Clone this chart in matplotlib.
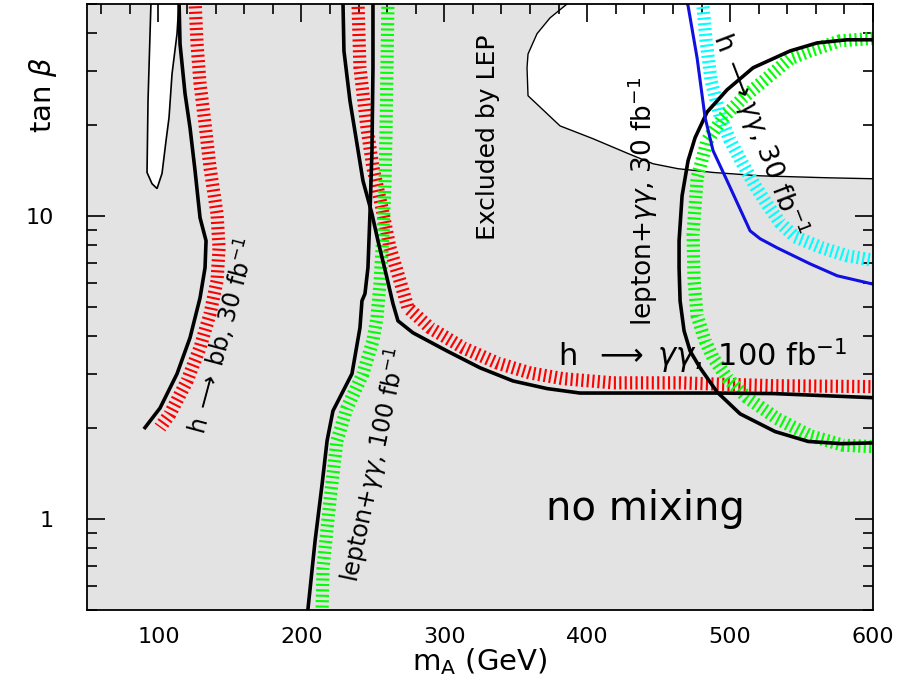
import numpy as np
import matplotlib.pyplot as plt
from matplotlib.ticker import LogLocator, MultipleLocator, FixedLocator, FixedFormatter, NullFormatter

plt.rcParams['font.family'] = 'DejaVu Sans'
plt.rcParams['mathtext.fontset'] = 'dejavusans'
plt.rcParams['lines.scale_dashes'] = False

# region excluded by LEP (white, upper right)
lep_x = [385.9, 374.0, 364.9, 358.6, 357.9, 358.6, 381.0, 404.1, 427.9, 446.1, 463.6, 488.1, 520.9, 567.8, 600.0]
lep_y = [50.0, 45.0, 39.9, 34.2, 30.8, 24.9, 19.8, 17.96, 16.1, 14.85, 14.3, 13.9, 13.55, 13.35, 13.25]

# small white sliver near mA = 100
sliver_x = [94.8, 92.7, 92.0, 95.5, 99.0, 102.5, 105.3, 107.4, 109.5, 113.0, 114.4]
sliver_y = [51.2, 23.97, 13.9, 12.76, 12.3, 13.8, 17.7, 21.1, 29.4, 39.9, 51.2]

# h -> bb, 30 fb^-1
bb_line_x = [114.4, 115.1, 118.6, 122.1, 125.6, 129.1, 133.3, 132.6, 129.1, 122.1, 113.0, 101.1, 90.6]
bb_line_y = [51.2, 36.9, 25.3, 19.5, 14.1, 9.85, 8.27, 6.74, 5.36, 3.96, 3.01, 2.32, 2.0]
bb_band_x = [125.6, 127.0, 129.1, 132.6, 136.1, 141.0, 142.4, 141.0, 136.1, 129.1, 120.0, 108.1, 101.1]
bb_band_y = [51.2, 36.9, 27.3, 20.1, 14.4, 10.15, 7.84, 6.10, 4.75, 3.67, 2.85, 2.22, 2.0]

# h -> gamma gamma, 100 fb^-1
gg100_line_x = [229.1, 229.8, 234.0, 238.9, 243.1, 249.4, 253.6, 259.9, 264.1, 267.6, 278.1, 301.9,
                325.0, 348.1, 371.9, 395.0, 418.1, 465.0, 490.9, 530.1, 600.0]
gg100_line_y = [51.2, 35.0, 23.97, 17.3, 13.05, 10.15, 8.27, 6.24, 5.13, 4.50, 4.11, 3.58,
                3.15, 2.85, 2.69, 2.60, 2.60, 2.60, 2.60, 2.59, 2.51]
gg100_band_x = [239.6, 241.0, 245.9, 250.1, 256.4, 262.0, 269.0, 274.6, 290.0, 313.1, 336.9, 360.0,
                383.1, 418.1, 465.0, 483.9, 530.1, 600.0]
gg100_band_y = [51.0, 30.8, 19.5, 14.4, 10.6, 7.84, 6.10, 4.97, 4.27, 3.67, 3.27, 3.03,
                2.90, 2.81, 2.81, 2.79, 2.75, 2.73]

# lepton + gamma gamma, 100 fb^-1
lep100_line_x = [250.1, 250.1, 249.4, 248.0, 246.6, 244.5, 242.4, 241.0, 235.4, 222.1, 218.0, 214.5, 209.6, 204.7, 204.3]
lep100_line_y = [51.2, 30.8, 16.4, 10.15, 6.74, 5.53, 5.24, 4.27, 3.01, 2.27, 1.81, 1.30, 0.846, 0.508, 0.49]
lep100_band_x = [260.6, 259.9, 259.2, 258.5, 257.1, 255.0, 252.9, 250.1, 243.1, 231.9, 224.9, 220.0, 215.2, 214.5, 214.4]
lep100_band_y = [51.0, 30.8, 18.65, 12.76, 8.72, 5.97, 4.61, 3.87, 3.01, 2.32, 1.81, 1.15, 0.689, 0.508, 0.49]

# h -> gamma gamma, 30 fb^-1
gg30_line_x = [469.2, 470.6, 476.9, 482.5, 488.1, 497.9, 514.0, 521.0, 532.9, 556.0, 574.9, 600.0]
gg30_line_y = [51.2, 49.3, 33.2, 21.1, 16.4, 13.05, 8.92, 8.40, 7.84, 6.94, 6.34, 5.95]
gg30_band_x = [480.5, 481.1, 483.2, 486.7, 493.0, 500.0, 508.4, 517.5, 526.6, 535.0, 545.5, 564.4, 581.9, 600.0]
gg30_band_y = [51.0, 48.6, 37.8, 27.9, 21.4, 17.7, 14.96, 12.56, 10.8, 9.48, 8.52, 7.84, 7.38, 7.14]

# lepton + gamma gamma, 30 fb^-1
lep30_line_x = [600.0, 581.9, 560.9, 542.0, 516.1, 497.9, 483.9, 475.5, 470.6, 466.4, 464.3, 464.3,
                465.0, 467.8, 472.0, 479.0, 490.9, 507.0, 531.5, 554.6, 577.7, 600.0]
lep30_line_y = [38.1, 38.1, 37.2, 35.0, 30.8, 26.05, 22.0, 18.1, 15.2, 11.64, 8.27, 6.74,
                5.24, 4.17, 3.58, 3.15, 2.62, 2.22, 1.94, 1.80, 1.77, 1.78]
lep30_band_x = [600.0, 576.9, 555.9, 541.9, 525.9, 509.1, 495.1, 483.9, 476.9, 474.1, 474.8, 476.9,
                482.5, 488.1, 497.9, 511.9, 532.9, 556.0, 579.0, 600.0]
lep30_band_y = [38.5, 37.8, 35.0, 33.0, 28.5, 24.5, 21.05, 17.7, 13.3, 8.72, 6.10, 4.68,
                3.87, 3.40, 2.92, 2.51, 2.14, 1.88, 1.75, 1.73]

x_ticks = [100, 200, 300, 400, 500, 600]
y_ticks = [1, 10]
y_tick_labels = ['1', '10']

fig = plt.figure(figsize=(9.03, 6.94), dpi=100)
ax = fig.add_axes([87 / 903, 84 / 694, 786 / 903, 606 / 694])
ax.set_facecolor('#e3e3e3')
ax.set_yscale('log')
ax.set_xlim(50, 600)
ax.set_ylim(0.5, 50)
xmax = ax.get_xlim()[1]
ymax = ax.get_ylim()[1]

# white regions
ax.fill(lep_x + [xmax], lep_y + [ymax], color='white', zorder=1)
ax.plot(lep_x, lep_y, color='black', lw=1.0, zorder=2)
ax.fill(sliver_x, sliver_y, facecolor='white', edgecolor='black', lw=1.2, zorder=1)

# hatched bands
band = dict(lw=9.5, dashes=(1.5, 2.4), dash_capstyle='butt', zorder=3)
ax.plot(bb_band_x, bb_band_y, color='#ff0000', **band)
ax.plot(gg100_band_x, gg100_band_y, color='#ff0000', **band)
ax.plot(lep100_band_x, lep100_band_y, color='#00ff00', **band)
ax.plot(gg30_band_x, gg30_band_y, color='#00ffff', **band)
ax.plot(lep30_band_x, lep30_band_y, color='#00ff00', **band)

# contour lines
ax.plot(bb_line_x, bb_line_y, color='black', lw=2.6, zorder=4)
ax.plot(gg100_line_x, gg100_line_y, color='black', lw=2.6, zorder=4)
ax.plot(lep100_line_x, lep100_line_y, color='black', lw=2.6, zorder=4)
ax.plot(lep30_line_x, lep30_line_y, color='black', lw=2.6, zorder=4)
ax.plot(gg30_line_x, gg30_line_y, color='#1010e0', lw=2.2, zorder=4)

# labels
ax.text(330.6, 18.1, 'Excluded by LEP', rotation=90, ha='center', va='center', fontsize=18, zorder=5)
ax.text(439, 11.2, r'lepton+$\gamma\gamma$, 30 fb$^{-1}$', rotation=90, ha='center', va='center',
        fontsize=19, zorder=5)
ax.text(521, 18.5, r'h$\;\longrightarrow\gamma\gamma$, 30 fb$^{-1}$', rotation=-69, rotation_mode='anchor',
        ha='center', va='center', fontsize=19, zorder=5)
ax.text(481, 3.45, r'h$\;\;\longrightarrow\;\gamma\gamma,\;$100 fb$^{-1}$', ha='center', va='center',
        fontsize=22, zorder=5)
ax.text(144.5, 4.02, r'h$\;\longrightarrow\;$bb, 30 fb$^{-1}$', rotation=75, rotation_mode='anchor',
        ha='center', va='center', fontsize=17, zorder=5)
ax.text(251.5, 1.50, r'lepton+$\gamma\gamma$, 100 fb$^{-1}$', rotation=78, rotation_mode='anchor',
        ha='center', va='center', fontsize=17, zorder=5)
ax.text(440.5, 1.08, 'no mixing', ha='center', va='center', fontsize=29, zorder=5)

# axes and ticks (no tick marks on the bottom edge)
ax.xaxis.set_major_locator(FixedLocator(x_ticks))
ax.xaxis.set_minor_locator(MultipleLocator(20))
ax.yaxis.set_major_locator(FixedLocator(y_ticks))
ax.yaxis.set_major_formatter(FixedFormatter(y_tick_labels))
ax.yaxis.set_minor_locator(LogLocator(subs=np.arange(2, 10)))
ax.yaxis.set_minor_formatter(NullFormatter())
ax.tick_params(which='both', direction='in', top=True, bottom=False, right=True,
               width=1.2, labelsize=16)
ax.tick_params(which='major', length=13)
ax.tick_params(which='minor', length=7)
ax.tick_params(axis='y', pad=24)
ax.tick_params(axis='x', pad=12)
for s in ax.spines.values():
    s.set_linewidth(1.3)
    s.set_zorder(6)

ax.set_xlabel(r'm$_{\rm A}$ (GeV)', fontsize=21)
ax.xaxis.set_label_coords(0.5, -0.06)
ax.xaxis.label.set_va('top')
ax.set_ylabel(r'tan $\beta$', fontsize=21)
ax.yaxis.set_label_coords(-0.035, 0.85)

fig.savefig('out.png', dpi=100)
